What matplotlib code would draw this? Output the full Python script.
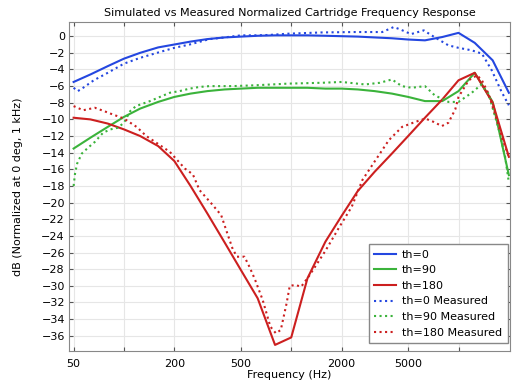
"""Simulated vs measured cartridge frequency response."""

import matplotlib
matplotlib.use("Agg")
import matplotlib.pyplot as plt

# simulated, 1/3 octave centres
sim_freq = [50, 63, 80, 100, 125, 160, 200, 250, 315, 400, 500, 630, 800, 1000,
            1250, 1600, 2000, 2500, 3150, 4000, 5000, 6300, 8000, 10000, 12500,
            16000, 20000]
sim_th0 = [-5.5, -4.6, -3.6, -2.7, -2.0, -1.35, -1.0, -0.65, -0.35, -0.15, -0.05,
           0.05, 0.1, 0.1, 0.1, 0.05, 0.0, -0.05, -0.15, -0.25, -0.4, -0.5, -0.1,
           0.4, -0.8, -2.9, -6.8]
sim_th90 = [-13.5, -12.2, -10.9, -9.7, -8.7, -7.9, -7.3, -6.9, -6.6, -6.4, -6.3,
            -6.2, -6.2, -6.2, -6.2, -6.3, -6.3, -6.4, -6.6, -6.9, -7.3, -7.8, -7.8,
            -6.6, -4.4, -7.9, -16.7]
sim_th180 = [-9.8, -10.0, -10.5, -11.2, -12.0, -13.2, -15.0, -18.0, -21.3, -24.8,
             -28.1, -31.5, -37.1, -36.2, -29.1, -24.7, -21.6, -18.6, -16.3, -14.1,
             -12.0, -9.8, -7.6, -5.3, -4.4, -8.0, -14.5]

# measured
meas0_freq = [50, 53, 57, 66, 80, 100, 125, 164, 200, 247, 325, 400, 500, 610, 740,
              960, 1520, 2400, 3500, 4100, 4500, 5200, 6200, 6900, 7600, 8700,
              10000, 12000, 13800, 15800, 18100, 20000]
meas0_db = [-6.2, -6.6, -6.2, -5.3, -4.4, -3.3, -2.6, -1.9, -1.4, -1.0, -0.35, -0.15,
            0.1, 0.1, 0.15, 0.3, 0.45, 0.5, 0.5, 1.1, 0.8, 0.25, 0.7, 0.1, -0.4,
            -1.1, -1.4, -1.7, -2.1, -4.1, -6.7, -8.3]

meas90_freq = [50, 51, 52.5, 56, 61, 67, 75, 83, 92, 100, 109, 118, 130, 143, 164,
               188, 215, 247, 283, 325, 446, 610, 960, 1520, 2000, 2760, 3380, 4000,
               4580, 5250, 6300, 7200, 8700, 10000, 12000, 13700, 15100, 17300,
               19000, 20000]
meas90_db = [-18.0, -16.5, -15.3, -14.1, -13.4, -12.7, -11.6, -11.2, -11.0, -10.4,
             -9.0, -8.4, -8.1, -7.8, -7.3, -6.8, -6.6, -6.3, -6.1, -6.0, -6.0, -5.9,
             -5.7, -5.6, -5.5, -5.8, -5.6, -5.2, -6.0, -6.2, -6.0, -7.1, -7.9, -7.9,
             -6.8, -5.8, -6.9, -11.0, -14.5, -17.6]

meas180_freq = [50, 57, 67, 76, 83, 100, 119, 136, 156, 188, 231, 258, 283, 333, 381,
                418, 447, 474, 525, 562, 606, 675, 750, 809, 866, 938, 980, 1056,
                1147, 1280, 1600, 1930, 2300, 2660, 3190, 3830, 4600, 5520, 6340,
                7100, 7950, 8700, 9560, 10000, 11500, 12900, 13800, 15100, 16500,
                18100, 20000]
meas180_db = [-8.4, -8.9, -8.6, -9.0, -9.3, -9.9, -10.9, -12.0, -12.8, -13.9, -15.9,
              -16.6, -18.5, -20.1, -21.5, -23.9, -25.6, -26.5, -26.5, -27.7, -29.2,
              -31.7, -34.9, -35.7, -35.3, -32.1, -30.0, -29.9, -30.1, -28.8, -25.8,
              -23.0, -20.5, -17.3, -14.9, -12.5, -10.9, -10.3, -9.9, -10.3, -10.8,
              -10.4, -8.8, -7.3, -5.3, -4.7, -5.3, -6.9, -9.3, -12.1, -14.5]

tick_vals = [50, 100, 200, 500, 1000, 2000, 5000, 10000]
tick_labels = ["50", "", "200", "500", "", "2000", "5000", ""]

BLUE = "#2447e0"
GREEN = "#3bb33b"
RED = "#cc1f1f"

plt.rcParams["font.family"] = "DejaVu Sans"
plt.rcParams["font.size"] = 8

fig = plt.figure(figsize=(5.12, 3.8), dpi=100)
ax = fig.add_axes([0.135, 0.077, 0.861, 0.865])

ax.plot(sim_freq, sim_th0, color=BLUE, lw=1.5, label="th=0")
ax.plot(sim_freq, sim_th90, color=GREEN, lw=1.5, label="th=90")
ax.plot(sim_freq, sim_th180, color=RED, lw=1.5, label="th=180")
ax.plot(meas0_freq, meas0_db, color=BLUE, lw=1.5, ls=":", label="th=0 Measured")
ax.plot(meas90_freq, meas90_db, color=GREEN, lw=1.5, ls=":", label="th=90 Measured")
ax.plot(meas180_freq, meas180_db, color=RED, lw=1.5, ls=":", label="th=180 Measured")

ax.set_xscale("log")
ax.set_xlim(47, 20300)
ax.set_ylim(-37.8, 1.7)
ax.set_xticks(tick_vals)
ax.set_xticklabels(tick_labels)
ax.xaxis.set_minor_locator(matplotlib.ticker.NullLocator())
ax.set_yticks(range(-36, 1, 2))
ax.tick_params(direction="in", top=True, right=True, length=3, color="#555555",
               labelsize=8)
ax.tick_params(axis="x", pad=6)
ax.tick_params(axis="y", pad=3)
ax.grid(True, color="#e6e6e6", lw=0.8)
ax.set_axisbelow(True)
for s in ax.spines.values():
    s.set_color("#888888")

ax.set_title("Simulated vs Measured Normalized Cartridge Frequency Response",
             fontsize=8, pad=4)
ax.set_xlabel("Frequency (Hz)", fontsize=8, labelpad=1)
ax.set_ylabel("dB (Normalized at 0 deg, 1 kHz)", fontsize=8, labelpad=13)

leg = ax.legend(loc="lower right", bbox_to_anchor=(0.992, 0.097),
                bbox_transform=fig.transFigure, fontsize=8, frameon=True,
                fancybox=False, edgecolor="#888888", handlelength=1.9,
                handletextpad=0.6, borderpad=0.5, labelspacing=0.5,
                borderaxespad=0, framealpha=1)
leg.get_frame().set_linewidth(1.0)

fig.savefig("out.png", dpi=100)
